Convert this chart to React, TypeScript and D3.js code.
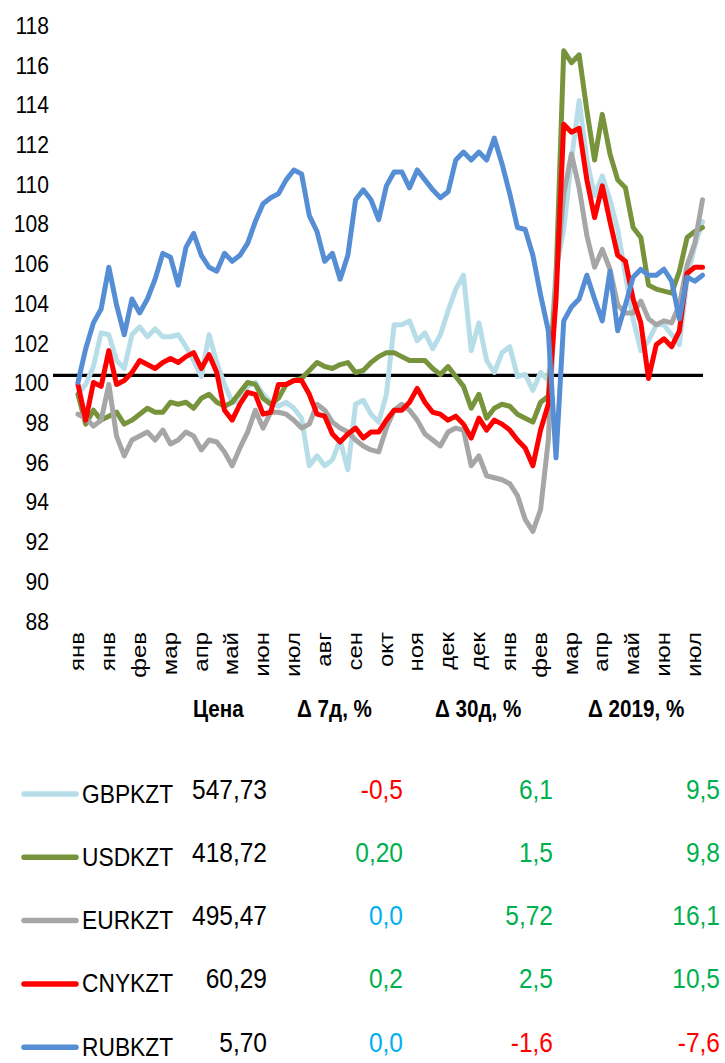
import * as d3 from "d3";
import * as React from "react";

// подписи оси X (каждая 4-я точка)
const months = ["янв", "янв", "фев", "мар", "апр", "май", "июн", "июл", "авг", "сен", "окт",
  "ноя", "дек", "дек", "янв", "фев", "мар", "апр", "май", "июн", "июл"];
const LABEL_EVERY = 4;

const yTicks = [88, 90, 92, 94, 96, 98, 100, 102, 104, 106, 108, 110, 112, 114, 116, 118];
const BASE = 100.35;

// индекс, начало периода = 100
const gbp = [99.4, 99.9, 100.8, 102.5, 102.4, 101.1, 100.7, 102.4, 102.8, 102.3, 102.7, 102.3, 102.3, 102.4,
  101.8, 101.1, 100.3, 102.4, 101.0, 99.9, 99.0, 99.0, 99.8, 100.0, 99.4, 99.0, 98.8, 99.0, 98.7, 98.2,
  95.8, 96.3, 95.8, 96.1, 97.1, 95.6, 98.9, 99.1, 98.4, 98.0, 99.4, 102.9, 102.9, 103.1, 102.1, 102.5,
  101.7, 102.4, 103.6, 104.7, 105.4, 101.6, 103.0, 101.1, 100.5, 101.5, 101.8, 100.3, 100.4, 99.6, 100.5,
  100.1, 105.7, 107.7, 111.2, 114.2, 111.2, 109.4, 110.4, 109.2, 107.7, 105.4, 103.2, 101.6, 102.1, 102.9,
  102.9, 102.4, 101.9, 105.2, 106.9, 108.1];
const usd = [99.4, 97.9, 98.6, 98.1, 98.3, 98.5, 97.9, 98.1, 98.4, 98.7, 98.5, 98.5, 99.0, 98.9, 99.0,
  98.7, 99.2, 99.4, 99.0, 98.8, 99.0, 99.5, 100.0, 99.9, 99.2, 98.9, 99.2, 99.9, 100.1, 100.2, 100.6,
  101.0, 100.8, 100.7, 100.9, 101.0, 100.5, 100.6, 101.0, 101.3, 101.5, 101.5, 101.3, 101.1, 101.1, 101.1,
  100.7, 100.4, 100.8, 100.3, 99.8, 98.7, 99.4, 98.2, 98.7, 98.9, 98.8, 98.4, 98.2, 98.0, 99.0, 99.3,
  105.2, 116.7, 116.1, 116.5, 113.7, 111.2, 113.5, 111.5, 110.2, 109.8, 107.8, 107.3, 104.9, 104.7, 104.6,
  104.5, 105.6, 107.3, 107.6, 107.8];
const eur = [98.4, 98.2, 97.8, 98.1, 99.9, 97.3, 96.3, 97.1, 97.3, 97.5, 97.1, 97.6, 96.9, 97.1, 97.5,
  97.3, 96.6, 97.1, 97.0, 96.5, 95.8, 96.7, 97.5, 98.6, 97.7, 98.5, 98.5, 98.4, 98.1, 97.7, 97.9, 98.9,
  98.6, 98.0, 97.7, 97.5, 97.1, 96.8, 96.6, 96.5, 97.7, 98.6, 98.9, 98.6, 98.1, 97.4, 97.1, 96.8, 97.5,
  97.7, 97.6, 95.8, 96.3, 95.3, 95.2, 95.1, 94.9, 94.3, 93.1, 92.5, 93.6, 97.1, 105.2, 109.5, 111.5, 109.8,
  107.4, 105.8, 106.7, 105.7, 103.9, 103.5, 103.5, 104.1, 103.2, 102.9, 103.1, 103.0, 103.9, 105.9, 107.0,
  109.2];
const cny = [99.9, 98.1, 100.0, 99.8, 101.6, 99.9, 100.1, 100.5, 101.1, 100.9, 100.7, 101.0, 101.2, 101.0,
  101.3, 101.5, 100.7, 101.4, 100.5, 98.6, 98.1, 98.9, 99.5, 99.4, 98.4, 98.5, 99.9, 99.9, 100.1, 100.1,
  99.4, 98.4, 98.3, 97.4, 97.0, 97.4, 97.7, 97.2, 97.5, 97.5, 98.1, 98.6, 98.6, 99.0, 99.7, 99.0, 98.5,
  98.4, 98.1, 98.3, 97.9, 97.2, 98.2, 97.6, 98.1, 97.9, 97.6, 97.1, 96.7, 95.8, 97.6, 98.9, 104.2, 113.0,
  112.6, 112.8, 110.2, 108.3, 109.9, 108.1, 106.4, 106.1, 104.2, 103.0, 100.2, 101.9, 102.2, 101.8, 102.6,
  105.5, 105.8, 105.8];
const rub = [100.0, 101.7, 103.0, 103.7, 105.8, 103.9, 102.4, 104.2, 103.5, 104.2, 105.2, 106.5, 106.3,
  104.9, 106.8, 107.5, 106.4, 105.8, 105.6, 106.5, 106.1, 106.4, 107.0, 108.1, 109.0, 109.3, 109.5, 110.2,
  110.7, 110.5, 108.4, 107.6, 106.1, 106.5, 105.2, 106.4, 109.2, 109.7, 109.2, 108.2, 109.9, 110.6, 110.6,
  109.8, 110.7, 110.2, 109.7, 109.3, 109.6, 111.2, 111.6, 111.2, 111.6, 111.2, 112.3, 111.0, 109.5, 107.8,
  107.7, 106.4, 104.4, 102.6, 96.2, 103.1, 103.8, 104.2, 105.4, 104.2, 103.1, 105.6, 102.6, 103.9, 105.3,
  105.7, 105.4, 105.4, 105.7, 105.1, 103.2, 105.3, 105.1, 105.4];

// таблица
const names = ["GBPKZT", "USDKZT", "EURKZT", "CNYKZT", "RUBKZT"];
const colors = ["#B7DEE8", "#77933C", "#A6A6A6", "#FF0000", "#558ED5"];
const prices = ["547,73", "418,72", "495,47", "60,29", "5,70"];
const chg7d = ["-0,5", "0,20", "0,0", "0,2", "0,0"];
const chg30d = ["6,1", "1,5", "5,72", "2,5", "-1,6"];
const chgYtd = ["9,5", "9,8", "16,1", "10,5", "-7,6"];
const headers = ["Цена", "Δ 7д, %", "Δ 30д, %", "Δ 2019, %"];

const allSeries = [gbp, usd, eur, cny, rub];

const FONT = "'Liberation Sans', Arial, sans-serif";
const SX = 0.86; // текст в оригинале сжат по горизонтали

function signColor(s: string) {
  const v = parseFloat(s.replace(",", "."));
  if (v < 0) return "#FF0000";
  if (v === 0) return "#00B0F0";
  return "#00B050";
}

export default function App() {
  const x = d3.scaleLinear().domain([0, (months.length - 1) * LABEL_EVERY]).range([78, 694.8]);
  const y = d3.scaleLinear().domain([88, 118]).range([620.7, 25]);
  const line = d3.line<number>().x((_, i) => x(i)).y((d) => y(d));

  const colRight = [267, 403, 553, 720];
  const headX = [193, 297, 435, 588];
  const rowY = (i: number) => 794 + i * 63.3;

  return (
    <>
      <style>{`body{margin:0}`}</style>
      <svg width={725} height={1063} style={{ display: "block", background: "#fff" }}>
        {yTicks.map((t) => (
          <text key={t} transform={`translate(49,${y(t)}) scale(${SX},1)`} textAnchor="end" dy="0.36em"
            fontFamily={FONT} fontSize={24.5} fill="#000">{t}</text>
        ))}
        {months.map((m, i) => (
          <text key={i} transform={`translate(${x(i * LABEL_EVERY)},632) scale(${SX},1) rotate(-90)`}
            textAnchor="end" dy="0.3em" fontFamily={FONT} fontSize={24} fill="#000">{m}</text>
        ))}
        <line x1={53} x2={703} y1={y(BASE)} y2={y(BASE)} stroke="#000" strokeWidth={3.3} />
        {allSeries.map((s, k) => (
          <path key={k} d={line(s) || ""} fill="none" stroke={colors[k]} strokeWidth={5}
            strokeLinejoin="round" strokeLinecap="round" />
        ))}

        {headers.map((h, i) => (
          <text key={h} transform={`translate(${headX[i]},717) scale(${SX},1)`} fontFamily={FONT}
            fontWeight="bold" fontSize={24} fill="#000">{h}</text>
        ))}
        {names.map((n, i) => {
          const ry = rowY(i);
          const cols = [prices[i], chg7d[i], chg30d[i], chgYtd[i]];
          return (
            <g key={n}>
              <line x1={24} x2={76} y1={ry} y2={ry} stroke={colors[i]} strokeWidth={5.5} strokeLinecap="round" />
              <text transform={`translate(82,${ry + 8.5}) scale(${SX},1)`} fontFamily={FONT} fontSize={26.5}
                fill="#000">{n}</text>
              {cols.map((c, j) => (
                <text key={j} transform={`translate(${colRight[j]},${ry + 4.5}) scale(${SX},1)`}
                  textAnchor="end" fontFamily={FONT} fontSize={28.5}
                  fill={j === 0 ? "#000" : signColor(c)}>{c}</text>
              ))}
            </g>
          );
        })}
      </svg>
    </>
  );
}
